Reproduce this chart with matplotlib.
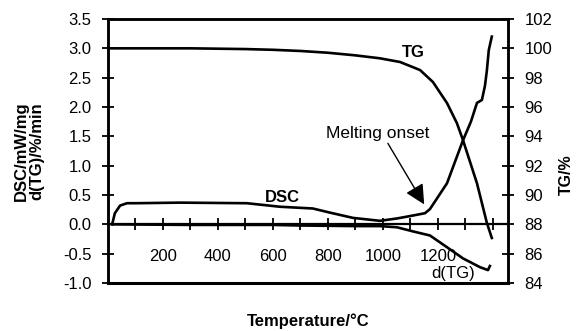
import matplotlib
matplotlib.use('Agg')
import matplotlib.pyplot as plt
from matplotlib.ticker import FixedLocator, FixedFormatter

# DSC curve (left axis, mW/mg)
dsc_temp = [15, 25, 44, 69, 100, 262, 505, 625, 745, 807, 891, 989, 1051, 1109, 1153, 1171,
            1233, 1291, 1320, 1342, 1360, 1371, 1378, 1385, 1396]
dsc_val = [0.0, 0.19, 0.32, 0.36, 0.36, 0.37, 0.36, 0.30, 0.27, 0.20, 0.11, 0.06, 0.10, 0.15, 0.19, 0.26,
           0.70, 1.43, 1.75, 2.07, 2.12, 2.36, 2.62, 2.97, 3.20]

# d(TG) curve (left axis, %/min)
dtg_temp = [15, 300, 600, 700, 900, 989, 1051, 1109, 1171, 1233, 1291, 1353, 1382, 1389]
dtg_val = [0.0, -0.01, -0.01, -0.02, -0.03, -0.03, -0.05, -0.12, -0.19, -0.39, -0.58, -0.73, -0.78, -0.71]

# TG curve (right axis, %)
tg_temp = [0, 300, 500, 600, 700, 800, 900, 989, 1062, 1135, 1182, 1233, 1269, 1291, 1342, 1378, 1396]
tg_val = [100.0, 100.0, 99.95, 99.9, 99.82, 99.7, 99.52, 99.32, 99.07, 98.52, 97.7, 96.27, 94.9, 93.75, 90.8, 88.1, 87.07]

xticks = [100, 200, 300, 400, 500, 600, 700, 800, 900, 1000, 1100, 1200, 1300, 1400]
xtick_labels = ['', '200', '', '400', '', '600', '', '800', '', '1000', '', '1200', '', '']
left_ticks = [-1.0, -0.5, 0.0, 0.5, 1.0, 1.5, 2.0, 2.5, 3.0, 3.5]
right_ticks = [84, 86, 88, 90, 92, 94, 96, 98, 100, 102]

plt.rcParams['font.family'] = ['Liberation Sans', 'DejaVu Sans']

fig = plt.figure(figsize=(5.76, 3.31), dpi=100)
ax = fig.add_axes([0.1875, 0.145, 0.6945, 0.7976])
ax2 = ax.twinx()

lw = 1.9
ax.plot(dsc_temp, dsc_val, color='k', lw=lw)
ax.plot(dtg_temp, dtg_val, color='k', lw=lw)
ax2.plot(tg_temp, tg_val, color='k', lw=lw)

ax.set_xlim(0, 1455)
ax.set_ylim(-1.0, 3.5)
ax2.set_ylim(84, 102)

ax.set_yticks(left_ticks)
ax.set_yticklabels(['%.1f' % v for v in left_ticks])
ax2.set_yticks(right_ticks)

ax.xaxis.set_major_locator(FixedLocator(xticks))
ax.xaxis.set_major_formatter(FixedFormatter(xtick_labels))

for a in (ax, ax2):
    for s in a.spines.values():
        s.set_linewidth(1.8)
# x axis runs along the zero line, plot frame closed at -1.0
ax.spines['bottom'].set_position(('data', 0))
ax.spines['bottom'].set_linewidth(1.6)
ax2.spines['bottom'].set_visible(False)
ax.axhline(-1.0, color='k', lw=2.2, clip_on=False)

fs = 12
ax.tick_params(axis='x', direction='inout', length=8, width=1.3, labelsize=fs, pad=14)
ax.tick_params(axis='y', direction='inout', length=8, width=1.3, labelsize=fs, pad=8)
ax2.tick_params(axis='y', direction='inout', length=8, width=1.3, labelsize=fs, pad=8)

ax.set_ylabel('DSC/mW/mg\nd(TG)/%/min', fontsize=fs, fontweight='bold', linespacing=1.0)
ax.yaxis.set_label_coords(-0.16, 0.5)
ax2.set_ylabel('TG/%', fontsize=11.5, fontweight='bold')
ax2.yaxis.set_label_coords(1.128, 0.41)
fig.text(0.535, 0.03, 'Temperature/°C', fontsize=fs, fontweight='bold', ha='center', va='center')

ax.text(1109, 2.93, 'TG', fontsize=fs, fontweight='bold', ha='center', va='center')
ax.text(636, 0.46, 'DSC', fontsize=fs, fontweight='bold', ha='center', va='center')
ax.text(1255, -0.84, 'd(TG)', fontsize=fs, ha='center', va='center')
ax.text(982, 1.55, 'Melting onset', fontsize=12.5, ha='center', va='center')
ax.annotate('', xy=(1150, 0.34), xytext=(1018, 1.38),
            arrowprops=dict(arrowstyle='-|>', mutation_scale=30, lw=1.0, color='k',
                            shrinkA=0, shrinkB=0))

fig.savefig('out.png', dpi=100)
